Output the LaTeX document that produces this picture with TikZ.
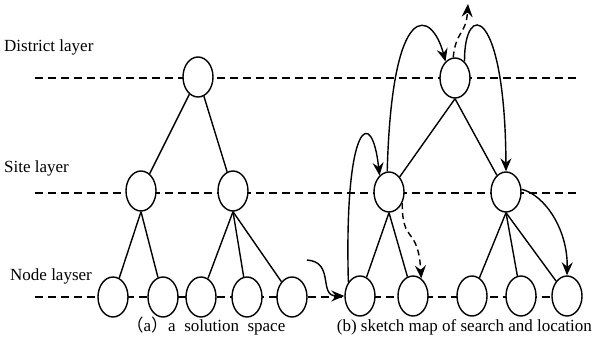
\documentclass[tikz,border=0pt]{standalone}
\usepackage{fontspec}
\setmainfont{Liberation Serif}
\newfontfamily\cjk{Noto Sans CJK SC}
\usetikzlibrary{shapes.geometric,arrows.meta}

\tikzset{
  vert/.style={ellipse,draw,line width=1.4pt,fill=white,minimum width=30pt,minimum height=40pt,inner sep=0pt},
  layerline/.style={line width=1.4pt,dash pattern=on 8pt off 5pt},
  edge/.style={line width=1.4pt},
  hop/.style={line width=1.4pt,-{Stealth[length=13pt,width=11pt,inset=4.5pt]}},
  lbl/.style={font=\fontsize{17}{19}\selectfont,inner sep=0pt}
}

\begin{document}
\begin{tikzpicture}[x=1pt,y=-1pt]
    \useasboundingbox (0,0) rectangle (594,343);
    \draw[layerline] (35,78) -- (578,78);
    \draw[layerline] (35,193) -- (578,193);
    \draw[layerline] (35,297) -- (552,297);
    \node[lbl,anchor=west] (dl) at (4,47) {District layer};
    \node[lbl,anchor=west] (sl) at (4,168) {Site layer};
    \node[lbl,anchor=west] (nl) at (10,276) {Node layser};
    % left tree
    \node[vert] (r) at (198,77) {};
    \node[vert] (s1) at (141,191) {};
    \node[vert] (s2) at (233,191) {};
    \node[vert] (n1) at (113,297) {};
    \node[vert] (n2) at (163,297) {};
    \node[vert] (n3) at (201,297) {};
    \node[vert] (n4) at (247,297) {};
    \node[vert] (n5) at (292,297) {};
    \draw[edge] (r) -- (s1);
    \draw[edge] (r) -- (s2);
    \draw[edge] (s1.south) -- (n1);
    \draw[edge] (s1.south) -- (n2);
    \draw[edge] (s2.south) -- (n3);
    \draw[edge] (s2.south) -- (n4);
    \draw[edge] (s2.south) -- (n5);
    % right tree
    \node[vert] (rr) at (455,78) {};
    \node[vert] (rs1) at (389,192) {};
    \node[vert] (rs2) at (506,192) {};
    \node[vert] (rn1) at (360,296) {};
    \node[vert] (rn2) at (413,296) {};
    \node[vert] (rn3) at (472,296) {};
    \node[vert] (rn4) at (521,296) {};
    \node[vert] (rn5) at (567,296) {};
    \draw[edge] (rr.south) -- (rs1);
    \draw[edge] (rr.south) -- (rs2);
    \draw[edge] (rs1.south) -- (rn1);
    \draw[edge] (rs1.south) -- (rn2);
    \draw[edge] (rs2.south) -- (rn3);
    \draw[edge] (rs2.south) -- (rn4);
    \draw[edge] (rs2.south) -- (rn5);
    % search path
    \coordinate (in) at (307,260);
    \draw[hop] (in) .. controls (335,262) and (318,296) .. (rn1.west);
    \draw[hop] (rn1.130) .. controls (344,120) and (372,105) .. (rs1.120);
    \draw[hop] (rs1.95) .. controls (392,-5) and (432,10) .. (rr.120);
    \draw[hop] (rr.60) .. controls (464,0) and (505,5) .. (rs2.90);
    \draw[hop,dash pattern=on 6pt off 4pt] (rr.95) .. controls (456,30) and (466,35) .. (468,4);
    \draw[hop,dash pattern=on 6pt off 4pt] (rs1.-40) .. controls (402,245) and (418,225) .. (rn2.65);
    \draw[hop] (rs2.10) .. controls (545,195) and (568,230) .. (rn5.90);
    \node[lbl,anchor=base] (ca) at (206,331) {{\cjk （}a{\cjk ）}a\ \ solution\ \ space};
    \node[lbl,anchor=base east] (cb) at (592,331) {(b) sketch map of search and location};
\end{tikzpicture}
\end{document}
